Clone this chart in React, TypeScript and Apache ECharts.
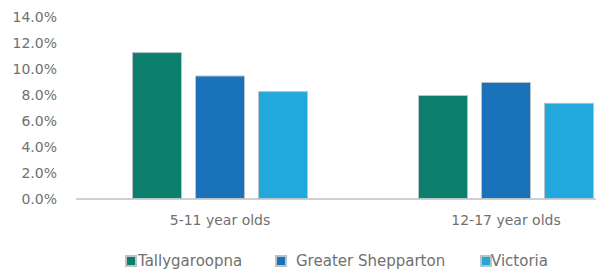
import React, { useEffect, useRef } from "react";
import * as echarts from "echarts";

const categories = ["5-11 year olds", "12-17 year olds"];
const seriesNames = ["Tallygaroopna", "Greater Shepparton", "Victoria"];
const tallygaroopna = [11.3, 8.0];
const greaterShepparton = [9.5, 9.0];
const victoria = [8.3, 7.4];
const colors = ["#0b7f6b", "#1a72ba", "#21a9de"];

export default function App() {
  const ref = useRef<HTMLDivElement>(null);
  useEffect(() => {
    if (!ref.current) return;
    const chart = echarts.init(ref.current, undefined, { renderer: "svg" });
    const data = [tallygaroopna, greaterShepparton, victoria];
    const legendLefts = [125, 275, 480];
    const legendTextPad = [-3, 5, -5];
    const font = "DejaVu Sans";
    chart.setOption({
      animation: false,
      textStyle: { fontFamily: font, color: "#707070" },
      grid: {
        left: 77,
        width: 572,
        top: 17,
        bottom: 71,
        containLabel: false,
        outerBoundsMode: "none",
      },
      legend: seriesNames.map((name, i) => ({
        data: [name],
        top: 253,
        left: legendLefts[i],
        padding: 0,
        itemWidth: 10,
        itemHeight: 10,
        icon: "rect",
        selectedMode: false,
        textStyle: {
          fontSize: 15,
          lineHeight: 16,
          color: "#707070",
          fontFamily: font,
          padding: [0, 0, 0, legendTextPad[i]],
        },
      })),
      xAxis: {
        type: "category",
        data: categories,
        axisLine: { show: true, lineStyle: { color: "#cfcfcf", width: 2 } },
        axisTick: { show: false },
        axisLabel: { fontSize: 14, color: "#707070", margin: 14, fontFamily: font },
      },
      yAxis: {
        type: "value",
        min: 0,
        max: 14,
        interval: 2,
        splitLine: { show: false },
        axisLine: { show: false },
        axisTick: { show: false },
        axisLabel: {
          fontSize: 14,
          color: "#707070",
          margin: 20,
          fontFamily: font,
          formatter: (v: number) => v.toFixed(1) + "%",
        },
      },
      series: seriesNames.map((name, i) => ({
        name,
        type: "bar",
        data: data[i],
        barWidth: 50,
        barGap: "26%",
        itemStyle: { color: colors[i], borderColor: "#b9c3c8", borderWidth: 1 },
      })),
    });
    return () => chart.dispose();
  }, []);
  return (
    <div
      ref={ref}
      style={{ position: "fixed", left: 0, top: 0, width: 596, height: 270, background: "#fff" }}
    />
  );
}
